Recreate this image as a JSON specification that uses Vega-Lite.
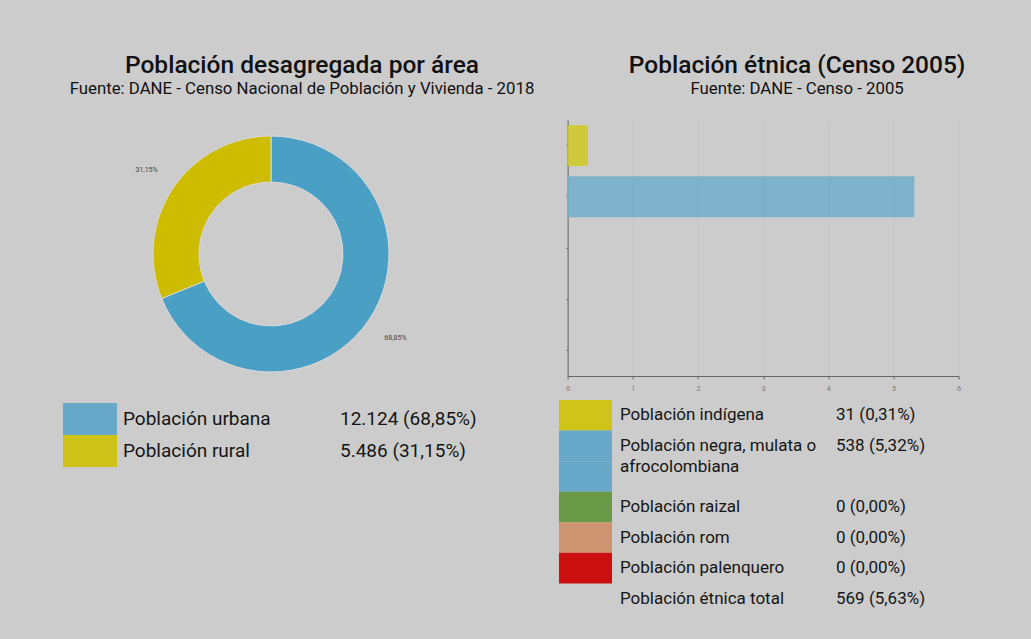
{
  "$schema": "https://vega.github.io/schema/vega-lite/v6.json",
  "background": "#cccccc",
  "padding": {"left": 63, "top": 52, "right": 57, "bottom": 25},
  "config": {
    "view": {"stroke": null},
    "font": "Roboto",
    "title": {"font": "Roboto", "fontSize": 24.5, "fontWeight": 500, "color": "#111111", "subtitleFont": "Roboto", "subtitleFontSize": 16.8, "subtitleColor": "#111111", "subtitlePadding": 3, "anchor": "middle"}
  },
  "datasets": {
    "area": [
      {"area": "Población urbana", "poblacion": 12124, "cifra": "12.124 (68,85%)", "pct": "68,85%"},
      {"area": "Población rural", "poblacion": 5486, "cifra": "5.486 (31,15%)", "pct": "31,15%"}
    ],
    "etnica": [
      {"fila": "f1", "grupo": "Población indígena", "etiqueta": "Población indígena", "valor": "31 (0,31%)", "pct": 0.31},
      {"fila": "f2", "grupo": "Población negra, mulata o afrocolombiana", "etiqueta": "Población negra, mulata o\nafrocolombiana", "valor": "538 (5,32%)", "pct": 5.32},
      {"fila": "f4", "grupo": "Población raizal", "etiqueta": "Población raizal", "valor": "0 (0,00%)", "pct": 0},
      {"fila": "f5", "grupo": "Población rom", "etiqueta": "Población rom", "valor": "0 (0,00%)", "pct": 0},
      {"fila": "f6", "grupo": "Población palenquero", "etiqueta": "Población palenquero", "valor": "0 (0,00%)", "pct": 0},
      {"fila": "f7", "grupo": "Población étnica total", "etiqueta": "Población étnica total", "valor": "569 (5,63%)", "pct": 5.63}
    ],
    "muestras": [
      {"fila": "f1", "grupo": "Población indígena"},
      {"fila": "f2", "grupo": "Población negra, mulata o afrocolombiana"},
      {"fila": "f3", "grupo": "Población negra, mulata o afrocolombiana"},
      {"fila": "f4", "grupo": "Población raizal"},
      {"fila": "f5", "grupo": "Población rom"},
      {"fila": "f6", "grupo": "Población palenquero"}
    ]
  },
  "hconcat": [
    {
      "vconcat": [
        {
          "title": {"text": "Población desagregada por área", "subtitle": "Fuente: DANE - Censo Nacional de Población y Vivienda - 2018", "dx": 31, "offset": 21},
          "width": 416,
          "height": 268,
          "data": {"name": "area"},
          "encoding": {
            "theta": {"field": "poblacion", "type": "quantitative", "stack": true},
            "order": {"field": "poblacion", "type": "quantitative", "sort": "descending"}
          },
          "layer": [
            {
              "mark": {"type": "arc", "outerRadius": 118, "innerRadius": 72, "stroke": "#d9d9d9", "strokeWidth": 1},
              "encoding": {
                "color": {"field": "area", "type": "nominal", "scale": {"domain": ["Población urbana", "Población rural"], "range": ["#4a9fc4", "#cdbc00"]}, "legend": null}
              }
            },
            {
              "mark": {"type": "text", "radius": 150, "fontSize": 7, "color": "#444444"},
              "encoding": {"text": {"field": "pct", "type": "nominal"}}
            }
          ]
        },
        {
          "data": {"name": "area"},
          "hconcat": [
            {
              "width": 54,
              "height": 64,
              "mark": {"type": "rect"},
              "encoding": {
                "y": {"field": "area", "type": "nominal", "scale": {"type": "band", "domain": ["Población urbana", "Población rural"], "paddingInner": 0, "paddingOuter": 0}, "axis": null},
                "color": {"field": "area", "type": "nominal", "scale": {"domain": ["Población urbana", "Población rural"], "range": ["#68a8c8", "#cfc31a"]}, "legend": null}
              }
            },
            {
              "width": 211,
              "height": 64,
              "mark": {"type": "text", "align": "left", "baseline": "middle", "fontSize": 19, "color": "#151515"},
              "encoding": {
                "y": {"field": "area", "type": "nominal", "scale": {"type": "band", "domain": ["Población urbana", "Población rural"], "paddingInner": 0, "paddingOuter": 0}, "axis": null},
                "x": {"value": 0},
                "text": {"field": "area", "type": "nominal"}
              }
            },
            {
              "width": 133,
              "height": 64,
              "mark": {"type": "text", "align": "left", "baseline": "middle", "fontSize": 19, "color": "#151515"},
              "encoding": {
                "y": {"field": "area", "type": "nominal", "scale": {"type": "band", "domain": ["Población urbana", "Población rural"], "paddingInner": 0, "paddingOuter": 0}, "axis": null},
                "x": {"value": 0},
                "text": {"field": "cifra", "type": "nominal"}
              }
            }
          ],
          "spacing": 6,
          "bounds": "flush",
          "resolve": {"scale": {"color": "independent", "y": "independent"}}
        }
      ],
      "spacing": 15,
      "resolve": {"scale": {"color": "independent"}}
    },
    {
      "vconcat": [
        {
          "title": {"text": "Población étnica (Censo 2005)", "subtitle": "Fuente: DANE - Censo - 2005", "dx": 34, "offset": 21},
          "width": 391,
          "height": 256,
          "data": {"name": "etnica"},
          "transform": [{"filter": "datum.fila != 'f7'"}],
          "mark": {"type": "bar"},
          "encoding": {
            "y": {
              "field": "grupo", "type": "nominal",
              "scale": {"domain": ["Población indígena", "Población negra, mulata o afrocolombiana", "Población raizal", "Población rom", "Población palenquero"], "paddingInner": 0.2, "paddingOuter": 0.1},
              "axis": {"labels": false, "title": null, "domainColor": "#666666", "tickColor": "#888888", "tickSize": 2}
            },
            "x": {
              "field": "pct", "type": "quantitative",
              "scale": {"domain": [0, 6], "nice": false},
              "axis": {"values": [0, 1, 2, 3, 4, 5, 6], "title": null, "grid": true, "gridColor": "#000000", "gridOpacity": 0.035, "zindex": 1, "domainColor": "#666666", "tickColor": "#666666", "tickSize": 3, "labelFontSize": 7, "labelColor": "#777777", "labelPadding": 5, "labelFlush": false}
            },
            "color": {
              "field": "grupo", "type": "nominal",
              "scale": {"domain": ["Población indígena", "Población negra, mulata o afrocolombiana", "Población raizal", "Población rom", "Población palenquero"], "range": ["#cfca3c", "#7eb2cb", "#8db07a", "#d4a88c", "#d45a5a"]},
              "legend": null
            }
          }
        },
        {
          "hconcat": [
            {
              "width": 53,
              "height": 214,
              "data": {"name": "muestras"},
              "mark": {"type": "rect"},
              "encoding": {
                "y": {"field": "fila", "type": "ordinal", "scale": {"type": "band", "domain": ["f1", "f2", "f3", "f4", "f5", "f6", "f7"], "paddingInner": 0, "paddingOuter": 0}, "axis": null},
                "color": {"field": "grupo", "type": "nominal", "scale": {"domain": ["Población indígena", "Población negra, mulata o afrocolombiana", "Población raizal", "Población rom", "Población palenquero"], "range": ["#d0c41a", "#68a8c8", "#6a9a48", "#cc9470", "#cc1010"]}, "legend": null}
              }
            },
            {
              "width": 208,
              "height": 214,
              "data": {"name": "etnica"},
              "mark": {"type": "text", "align": "left", "baseline": "middle", "fontSize": 17, "lineHeight": 21, "lineBreak": "\n", "color": "#151515"},
              "encoding": {
                "y": {"field": "fila", "type": "ordinal", "scale": {"type": "band", "domain": ["f1", "f2", "f3", "f4", "f5", "f6", "f7"], "paddingInner": 0, "paddingOuter": 0}, "axis": null},
                "x": {"value": 0},
                "text": {"field": "etiqueta", "type": "nominal"}
              }
            },
            {
              "width": 138,
              "height": 214,
              "data": {"name": "etnica"},
              "mark": {"type": "text", "align": "left", "baseline": "middle", "fontSize": 17, "color": "#151515"},
              "encoding": {
                "y": {"field": "fila", "type": "ordinal", "scale": {"type": "band", "domain": ["f1", "f2", "f3", "f4", "f5", "f6", "f7"], "paddingInner": 0, "paddingOuter": 0}, "axis": null},
                "x": {"value": 0},
                "text": {"field": "valor", "type": "nominal"}
              }
            }
          ],
          "spacing": 8,
          "bounds": "flush",
          "resolve": {"scale": {"color": "independent", "y": "independent"}}
        }
      ],
      "spacing": 9,
      "center": true,
      "resolve": {"scale": {"color": "independent"}}
    }
  ],
  "spacing": 24,
  "resolve": {"scale": {"color": "independent"}}
}
